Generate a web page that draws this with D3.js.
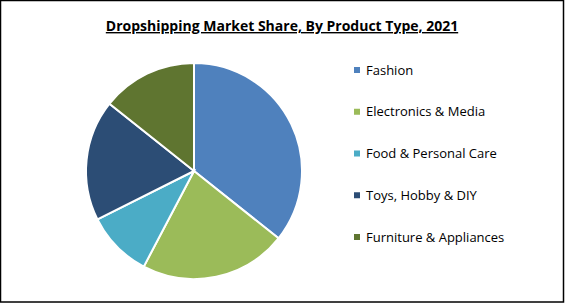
<!doctype html>
<html lang="en">
<head>
	<meta charset="UTF-8">
	<title>Dropshipping Market Share</title>
	<script src="https://d3js.org/d3.v7.min.js"></script>
	<style>
		body { margin: 0; background: #fff; }
		svg { display: block; }
	</style>
</head>
<body>
	<div id="chart"></div>
	<script>
		// data (share in %)
		var categories = ['Fashion', 'Electronics & Media', 'Food & Personal Care', 'Toys, Hobby & DIY', 'Furniture & Appliances']
		var shares = [35.7, 22.0, 9.9, 18.1, 14.3]
		var colors = ['#4f81bd', '#9bbb59', '#4bacc6', '#2c4d75', '#5f7530']
		var title = 'Dropshipping Market Share, By Product Type, 2021'

		var w = 565
		var h = 303
		var cx = 194, cy = 171, r = 108

		var svg = d3.select('#chart')
			.append('svg')
			.attr('width', w)
			.attr('height', h)

		// frame
		svg.append('rect')
			.attr('x', 0.5)
			.attr('y', 0.5)
			.attr('width', w - 2)
			.attr('height', h - 1.5)
			.attr('fill', '#fff')
			.attr('stroke', '#000')
			.attr('stroke-width', 1.5)

		// title
		svg.append('text')
			.attr('x', 282)
			.attr('y', 31)
			.attr('text-anchor', 'middle')
			.style('font-family', 'Open Sans, sans-serif')
			.style('font-weight', 'bold')
			.style('font-size', '14px')
			.style('text-decoration', 'underline')
			.attr('fill', '#000')
			.text(title)

		/* ---------------------------------- Pie ---------------------------------- */
		var pie = d3.pie().sort(null).value(function(d) { return d })
		var arc = d3.arc().innerRadius(0).outerRadius(r)

		svg.append('g')
			.attr('transform', 'translate(' + cx + ',' + cy + ')')
			.selectAll('path')
			.data(pie(shares))
			.join('path')
			.attr('d', arc)
			.attr('fill', function(d, i) { return colors[i] })
			.attr('stroke', '#fff')
			.attr('stroke-width', 2)

		/* --------------------------------- Legend -------------------------------- */
		var ly = d3.scalePoint()
			.domain(categories)
			.range([70, 237])

		var legend = svg.append('g')
			.selectAll('g')
			.data(categories)
			.join('g')
			.attr('transform', function(d) { return 'translate(354,' + ly(d) + ')' })

		legend.append('rect')
			.attr('x', 0)
			.attr('y', -3)
			.attr('width', 6)
			.attr('height', 6)
			.attr('fill', function(d, i) { return colors[i] })

		legend.append('text')
			.attr('x', 12)
			.attr('y', 4.5)
			.style('font-family', 'Open Sans, sans-serif')
			.style('font-size', '13px')
			.attr('fill', '#000')
			.text(function(d) { return d })
	</script>
</body>
</html>
